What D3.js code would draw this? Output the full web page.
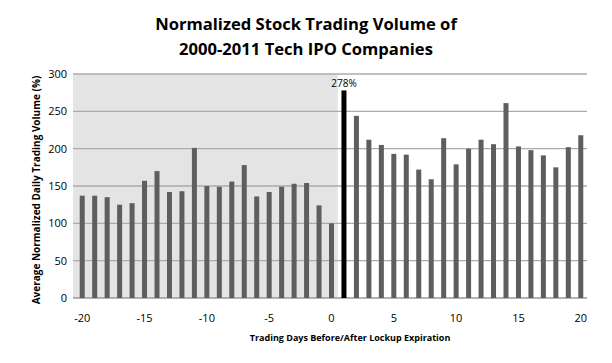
<!DOCTYPE html>
<html>
<head>
<meta charset="utf-8">
<script src="https://cdn.jsdelivr.net/npm/d3@7"></script>
<style>
  body { margin: 0; background: #fff; }
  text { font-family: "Open Sans", "Noto Sans", sans-serif; }
</style>
</head>
<body>
<svg width="612" height="363"></svg>
<script>
// days before/after lockup expiration
var days = d3.range(-20, 21);
var volume = [137, 137, 135, 125, 127, 157, 170, 142, 143, 201, 150, 149, 156, 178, 136,
  142, 149, 153, 154, 124, 100,
  278, 244, 212, 205, 193, 192, 172, 159, 214, 179, 200, 212, 206, 261, 203, 198, 191, 175, 202, 218];
var yTicks = [0, 50, 100, 150, 200, 250, 300];
var xTicks = [-20, -15, -10, -5, 0, 5, 10, 15, 20];

const svg = d3.select("svg");

var plotLeft = 73, plotRight = 587, plotTop = 74, plotBottom = 298;

var x = d3.scaleBand().domain(days).range([76, 587]);
var y = d3.scaleLinear().domain([0, 300]).range([plotBottom, plotTop]);

// shaded "before" area
svg.append("rect")
  .attr("x", plotLeft)
  .attr("y", plotTop)
  .attr("width", x(1) - plotLeft)
  .attr("height", plotBottom - plotTop)
  .attr("fill", "#e4e4e4");

// gridlines
svg.append("g")
  .selectAll("line")
  .data(yTicks)
  .enter()
  .append("line")
  .attr("x1", plotLeft)
  .attr("x2", plotRight)
  .attr("y1", d => y(d))
  .attr("y2", d => y(d))
  .attr("stroke", function (d) { return d == 0 ? "#9a9a9a" : "#ababab"; })
  .attr("stroke-width", 1.3);

// bars
var bw = 5;
svg.append("g")
  .selectAll("rect")
  .data(volume)
  .enter()
  .append("rect")
  .attr("x", (d, i) => x(days[i]) + x.bandwidth() / 2 - bw / 2)
  .attr("y", d => y(d))
  .attr("width", bw)
  .attr("height", d => plotBottom - y(d))
  .attr("fill", (d, i) => days[i] == 1 ? "#000" : "#5e5e5e");

// label for peak
svg.append("text")
  .attr("x", x(1) + x.bandwidth() / 2)
  .attr("y", y(278) - 3)
  .attr("text-anchor", "middle")
  .attr("font-size", 10)
  .text("278%");

// y axis labels
svg.append("g")
  .selectAll("text")
  .data(yTicks)
  .enter()
  .append("text")
  .attr("x", 67)
  .attr("y", d => y(d) + 4)
  .attr("text-anchor", "end")
  .attr("font-size", 11)
  .text(d => d);

// x axis labels
svg.append("g")
  .selectAll("text")
  .data(xTicks)
  .enter()
  .append("text")
  .attr("x", d => x(d) + x.bandwidth() / 2)
  .attr("y", 322)
  .attr("text-anchor", "middle")
  .attr("font-size", 11)
  .text(d => d);

// titles
svg.append("text")
  .attr("x", 306).attr("y", 30)
  .attr("text-anchor", "middle")
  .attr("font-size", 16.6).attr("font-weight", "bold")
  .text("Normalized Stock Trading Volume of");
svg.append("text")
  .attr("x", 306).attr("y", 55)
  .attr("text-anchor", "middle")
  .attr("font-size", 16.6).attr("font-weight", "bold")
  .text("2000-2011 Tech IPO Companies");

svg.append("text")
  .attr("x", 350).attr("y", 341)
  .attr("text-anchor", "middle")
  .attr("font-size", 9).attr("font-weight", "bold")
  .text("Trading Days Before/After Lockup Expiration");

svg.append("text")
  .attr("transform", "translate(40,190) rotate(-90)")
  .attr("text-anchor", "middle")
  .attr("font-size", 10).attr("font-weight", "bold")
  .text("Average Normalized Daily Trading Volume (%)");
</script>
</body>
</html>
